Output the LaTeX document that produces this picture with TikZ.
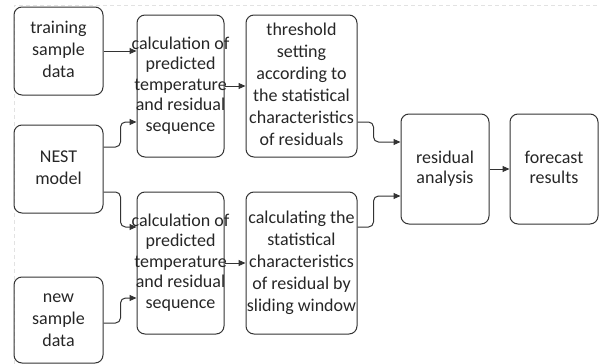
\documentclass[tikz,border=0pt]{standalone}
\usepackage{fontspec}
\setmainfont{Carlito}
\usetikzlibrary{arrows.meta}
\definecolor{ln}{HTML}{333333}
\definecolor{tx}{HTML}{262626}
\definecolor{frame}{HTML}{E2E2E2}
\newcommand{\boxlines}[1]{\makebox[0pt]{\begin{tabular}{@{}c@{}}#1\end{tabular}}}
\tikzset{
  box/.style={draw=ln, line width=1pt, rounded corners=8pt, inner sep=0pt,
    align=center, text=tx, font=\fontsize{18}{22}\selectfont},
  tight/.style={font=\fontsize{18}{20.5}\selectfont},
  arr/.style={draw=ln, line width=1pt, rounded corners=5pt,
    -{Triangle[length=7pt,width=6pt]}},
}
\begin{document}
\begin{tikzpicture}[x=1pt,y=-1pt]
\useasboundingbox (0,0) rectangle (600,364);
\draw[frame, line width=0.8pt, dash pattern=on 4pt off 3pt] (14,364) -- (14,5) -- (600,5);
\node[box, minimum width=89pt, minimum height=88pt] (train) at (58.5,51) {\boxlines{training\\sample\\data}};
\node[box, minimum width=89pt, minimum height=88pt] (nest) at (58.5,169) {\boxlines{NEST\\model}};
\node[box, minimum width=89pt, minimum height=86pt] (new) at (58.5,320) {\boxlines{new\\sample\\data}};
\node[box, tight, minimum width=87pt, minimum height=142pt] (calcA) at (180.5,86) {\boxlines{calculation of\\predicted\\temperature\\and residual\\sequence}};
\node[box, tight, minimum width=87pt, minimum height=142pt] (calcB) at (180.5,263) {\boxlines{calculation of\\predicted\\temperature\\and residual\\sequence}};
\node[box, minimum width=111pt, minimum height=142pt] (thr) at (301.5,86) {\boxlines{threshold\\setting\\according to\\the statistical\\characteristics\\of residuals}};
\node[box, minimum width=111pt, minimum height=142pt] (stat) at (301.5,263) {\boxlines{calculating the\\statistical\\characteristics\\of residual by\\sliding window}};
\node[box, font=\fontsize{18}{20}\selectfont, minimum width=88pt, minimum height=110pt] (res) at (445,169) {\boxlines{residual\\analysis}};
\node[box, font=\fontsize{18}{20}\selectfont, minimum width=88pt, minimum height=110pt] (fore) at (554,169) {\boxlines{forecast\\results}};
\draw[arr] (train.east) -- (train.east -| calcA.west);
\draw[arr] ([yshift=22pt]nest.east) -- ++(17,0) |- ([yshift=-36pt]calcA.west);
\draw[arr] ([yshift=-23pt]nest.east) -- ++(17,0) |- ([yshift=36pt]calcB.west);
\draw[arr] ([yshift=-3pt]new.east) -- ++(17,0) |- ([yshift=-35pt]calcB.west);
\draw[arr] (calcA.east) -- (thr.west);
\draw[arr] (calcB.east) -- (stat.west);
\draw[arr] ([yshift=-36pt]thr.east) -- ++(16,0) |- ([yshift=27pt]res.west);
\draw[arr] ([yshift=36pt]stat.east) -- ++(16,0) |- ([yshift=-27pt]res.west);
\draw[arr] (res.east) -- (fore.west);
\end{tikzpicture}
\end{document}
